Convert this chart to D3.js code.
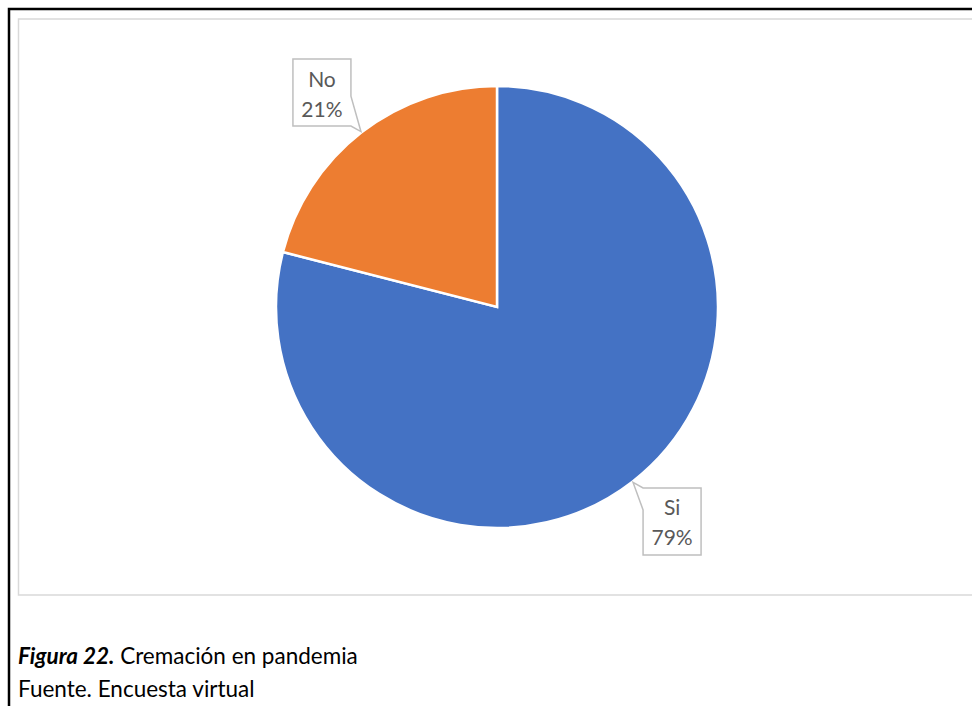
<!DOCTYPE html>
<html>
<head>
<meta charset="utf-8">
<script src="https://cdn.jsdelivr.net/npm/d3@7/dist/d3.min.js"></script>
<style>
html,body{margin:0;padding:0;background:#fff;}
svg{display:block;}
</style>
</head>
<body>
<svg id="chart" width="972" height="706"></svg>
<script>
const categories = ["Si", "No"];
const values = [79, 21];
const percentLabels = ["79%", "21%"];
const colors = ["#4472C4", "#ED7D31"];
const captionBold = "Figura 22.";
const captionText = " Cremación en pandemia";
const sourceText = "Fuente. Encuesta virtual";

const svg = d3.select("#chart");
const font = "Lato, 'Open Sans', 'Liberation Sans', sans-serif";

// outer black frame
svg.append("path")
  .attr("d", "M9,706 V9 H972")
  .attr("fill", "none").attr("stroke", "#000").attr("stroke-width", 2.5);

// chart area light border
svg.append("rect")
  .attr("x", 18.5).attr("y", 19).attr("width", 960).attr("height", 576)
  .attr("fill", "#fff").attr("stroke", "#D9D9D9").attr("stroke-width", 1.5);

const cx = 497, cy = 307, r = 221;
const data = categories.map((c, i) => ({ cat: c, value: values[i], label: percentLabels[i], color: colors[i] }));
const pie = d3.pie().value(d => d.value).sort(null);
const arcs = pie(data);
const arc = d3.arc().innerRadius(0).outerRadius(r);

const g = svg.append("g").attr("transform", `translate(${cx},${cy})`);
g.selectAll("path.slice").data(arcs).enter().append("path")
  .attr("class", "slice")
  .attr("d", arc)
  .attr("fill", d => d.data.color)
  .attr("stroke", "#fff").attr("stroke-width", 2.5).attr("stroke-linejoin", "miter");

// data labels with callouts
const bw = 58, bh = 67;
arcs.forEach(a => {
  const mid = (a.startAngle + a.endAngle) / 2;
  const tx = Math.sin(mid) * (r + 1), ty = -Math.cos(mid) * (r + 1);
  const sx = Math.sign(tx), sy = Math.sign(ty);
  const bcx = tx + sx * 39, bcy = ty + sy * 39;
  const L = bcx - bw / 2, R = bcx + bw / 2, T = bcy - bh / 2, B = bcy + bh / 2;
  let d;
  if (sx < 0 && sy < 0) {
    d = `M${L},${T} H${R} V${T + 37} L${tx},${ty} L${R},${B} H${L} Z`;
  } else {
    d = `M${L},${T} H${R} V${B} H${L} V${T + 22} L${tx},${ty} L${L},${T} Z`;
  }
  g.append("path").attr("d", d)
    .attr("fill", "#fff").attr("stroke", "#BFBFBF").attr("stroke-width", 1.5)
    .attr("stroke-linejoin", "miter");
  g.append("text").attr("x", bcx).attr("y", bcy - 6)
    .attr("text-anchor", "middle").attr("font-family", font).attr("font-size", 21)
    .attr("fill", "#595959").text(a.data.cat);
  g.append("text").attr("x", bcx).attr("y", bcy + 24)
    .attr("text-anchor", "middle").attr("font-family", font).attr("font-size", 21)
    .attr("fill", "#595959").text(a.data.label);
});

// caption
const cap = svg.append("text").attr("x", 18).attr("y", 664)
  .attr("font-family", font).attr("font-size", 22.5).attr("fill", "#000");
cap.append("tspan").attr("font-weight", "bold").attr("font-style", "italic").text(captionBold);
cap.append("tspan").text(captionText);

svg.append("text").attr("x", 18).attr("y", 697)
  .attr("font-family", font).attr("font-size", 22.5).attr("fill", "#000")
  .text(sourceText);
</script>
</body>
</html>
